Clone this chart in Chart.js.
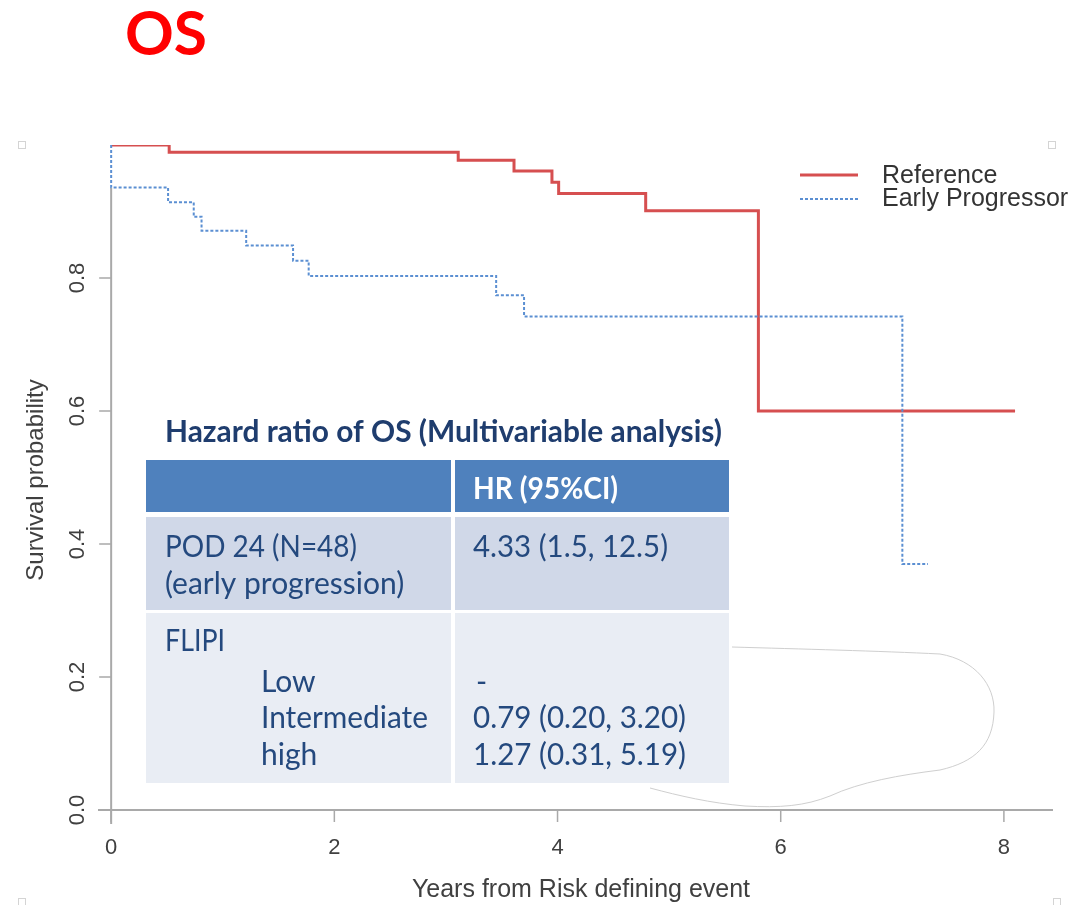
<!DOCTYPE html>
<html>
<head>
<meta charset="utf-8">
<script src="https://cdn.jsdelivr.net/npm/chart.js@4.4.0/dist/chart.umd.min.js"></script>
<style>
  html, body { margin: 0; padding: 0; background: #ffffff; overflow: hidden; }
  canvas { display: block; }
</style>
</head>
<body>
<canvas id="os" width="1092" height="905"></canvas>
<script>
// Kaplan-Meier steps: time (years) and survival just after each step
const refTime   = [0, 0.52, 3.11, 3.61, 3.95, 4.01, 4.79, 5.80, 8.10];
const refSurv   = [1.0, 0.989, 0.977, 0.961, 0.944, 0.927, 0.901, 0.600, 0.600];
const earlyTime = [0, 0, 0.51, 0.74, 0.81, 1.21, 1.63, 1.77, 3.45, 3.70, 7.09, 7.32];
const earlySurv = [1.0, 0.936, 0.914, 0.892, 0.871, 0.849, 0.826, 0.803, 0.774, 0.742, 0.370, 0.370];

const seriesNames = ['Reference', 'Early Progressor'];
const xTicks = [0, 2, 4, 6, 8];
const yTicks = [0.0, 0.2, 0.4, 0.6, 0.8];
const xTitle = 'Years from Risk defining event';
const yTitle = 'Survival probability';
const pageTitle = 'OS';

// Hazard ratio table
const tableTitle = 'Hazard ratio of OS (Multivariable analysis)';
const tableHead = 'HR (95%CI)';
const podLabel = ['POD 24 (N=48)', '(early progression)'];
const podHR = '4.33 (1.5, 12.5)';
const flipiLabel = 'FLIPI';
const flipiLevels = ['Low', 'Intermediate', 'high'];
const flipiHR = ['-', '0.79 (0.20, 3.20)', '1.27 (0.31, 5.19)'];

const RED = '#d64f50';
const BLUE = '#5b8fd2';
const AXIS = '#a9a9a9';
const INK = '#404040';
const NAVY = '#1f3d6e';
const BODY = '#24497e';
const SANS = '"Liberation Sans", Arial, sans-serif';
const HUMAN = 'Lato, "Open Sans", sans-serif';

function pts(xs, ys) { return xs.map((x, i) => ({ x: x, y: ys[i] })); }

function txt(ctx, s, x, y, font, color, align, maxW) {
  ctx.save();
  ctx.font = font;
  ctx.fillStyle = color;
  ctx.textAlign = align || 'left';
  ctx.textBaseline = 'middle';
  if (maxW) ctx.fillText(s, x, y, maxW); else ctx.fillText(s, x, y);
  ctx.restore();
}

const decorations = {
  id: 'decorations',
  beforeDraw(chart) {
    const ctx = chart.ctx;
    ctx.save();
    ctx.fillStyle = '#ffffff';
    ctx.fillRect(0, 0, chart.width, chart.height);
    // slide corner handles
    ctx.strokeStyle = '#d4d4d4';
    ctx.lineWidth = 1;
    [[22, 145], [1052, 145], [22, 902], [1057, 902]].forEach(p => {
      ctx.strokeRect(p[0] - 3.5, p[1] - 3.5, 7, 7);
    });
    // freeform outline shape
    ctx.beginPath();
    ctx.moveTo(732, 647);
    ctx.bezierCurveTo(800, 649, 880, 651, 940, 654);
    ctx.bezierCurveTo(975, 660, 995, 685, 994, 712);
    ctx.bezierCurveTo(993, 745, 975, 762, 940, 770);
    ctx.bezierCurveTo(900, 775, 860, 782, 830, 796);
    ctx.bezierCurveTo(805, 806, 780, 808, 745, 806);
    ctx.bezierCurveTo(710, 803, 680, 796, 650, 788);
    ctx.strokeStyle = '#cfcfcf';
    ctx.lineWidth = 1;
    ctx.stroke();
    ctx.restore();
  },
  afterDraw(chart) {
    const ctx = chart.ctx;
    const xs = chart.scales.x, ys = chart.scales.y;
    const x0 = xs.getPixelForValue(0);
    const yb = ys.getPixelForValue(0);
    ctx.save();
    ctx.strokeStyle = AXIS;
    ctx.lineWidth = 2;
    // axis lines
    ctx.beginPath();
    ctx.moveTo(98, yb); ctx.lineTo(1053, yb);
    ctx.moveTo(x0, 188); ctx.lineTo(x0, yb + 14);
    ctx.stroke();
    // x ticks
    ctx.lineWidth = 1.5;
    xTicks.forEach(v => {
      const px = xs.getPixelForValue(v);
      ctx.beginPath(); ctx.moveTo(px, yb); ctx.lineTo(px, yb + 12); ctx.stroke();
      txt(ctx, String(v), px, 848, '22px ' + SANS, INK, 'center');
    });
    // y ticks, labels rotated
    yTicks.forEach(v => {
      const py = ys.getPixelForValue(v);
      ctx.beginPath(); ctx.moveTo(x0 - 12, py); ctx.lineTo(x0, py); ctx.stroke();
      ctx.save();
      ctx.translate(78, py);
      ctx.rotate(-Math.PI / 2);
      txt(ctx, v.toFixed(1), 0, 0, '22px ' + SANS, INK, 'center');
      ctx.restore();
    });
    // axis titles
    txt(ctx, xTitle, 581, 890, '25px ' + SANS, INK, 'center', 347);
    ctx.save();
    ctx.translate(36, 480);
    ctx.rotate(-Math.PI / 2);
    txt(ctx, yTitle, 0, 0, '24px ' + SANS, INK, 'center', 210);
    ctx.restore();

    // legend
    ctx.lineWidth = 3;
    ctx.strokeStyle = RED;
    ctx.beginPath(); ctx.moveTo(800, 175); ctx.lineTo(858, 175); ctx.stroke();
    ctx.lineWidth = 2;
    ctx.strokeStyle = BLUE;
    ctx.setLineDash([3, 2]);
    ctx.beginPath(); ctx.moveTo(800, 199); ctx.lineTo(858, 199); ctx.stroke();
    ctx.setLineDash([]);
    txt(ctx, seriesNames[0], 882, 176, '25px ' + SANS, '#333333', 'left', 118);
    txt(ctx, seriesNames[1], 882, 199, '25px ' + SANS, '#333333', 'left', 187);

    // page title
    txt(ctx, pageTitle, 166, 35, 'bold 62px ' + HUMAN, '#ff0000', 'center', 82);

    // hazard ratio table
    txt(ctx, tableTitle, 165, 432, 'bold 30px ' + HUMAN, NAVY, 'left', 557);
    ctx.fillStyle = '#4f81bd';
    ctx.fillRect(146, 460, 305, 52);
    ctx.fillRect(455, 460, 274, 52);
    ctx.fillStyle = '#d0d8e8';
    ctx.fillRect(146, 517, 305, 93);
    ctx.fillRect(455, 517, 274, 93);
    ctx.fillStyle = '#e9edf4';
    ctx.fillRect(146, 613, 305, 170);
    ctx.fillRect(455, 613, 274, 170);
    const bodyFont = '30px ' + HUMAN;
    txt(ctx, tableHead, 473, 489, 'bold 30px ' + HUMAN, '#ffffff', 'left', 145);
    txt(ctx, podLabel[0], 165, 547, bodyFont, BODY, 'left', 192);
    txt(ctx, podLabel[1], 165, 584, bodyFont, BODY, 'left', 242);
    txt(ctx, podHR, 473, 547, bodyFont, BODY, 'left', 195);
    txt(ctx, flipiLabel, 165, 641, bodyFont, BODY, 'left', 60);
    const rowY = [682, 718, 755];
    flipiLevels.forEach((s, i) => txt(ctx, s, 261, rowY[i], bodyFont, BODY, 'left', i === 1 ? 167 : undefined));
    flipiHR.forEach((s, i) => txt(ctx, s, i === 0 ? 476 : 473, rowY[i], bodyFont, BODY, 'left', i === 0 ? undefined : 213));
    ctx.restore();
  }
};

new Chart(document.getElementById('os'), {
  type: 'scatter',
  data: {
    datasets: [
      {
        label: seriesNames[1],
        data: pts(earlyTime, earlySurv),
        showLine: true,
        stepped: true,
        borderColor: BLUE,
        borderWidth: 2,
        borderDash: [3, 2],
        pointRadius: 0,
        fill: false
      },
      {
        label: seriesNames[0],
        data: pts(refTime, refSurv),
        showLine: true,
        stepped: true,
        borderColor: RED,
        borderWidth: 3,
        pointRadius: 0,
        fill: false
      }
    ]
  },
  options: {
    responsive: false,
    animation: false,
    layout: { padding: { left: 100, right: 39, top: 145, bottom: 95 } },
    plugins: { legend: { display: false }, tooltip: { enabled: false }, title: { display: false } },
    scales: {
      x: { type: 'linear', min: -0.1, max: 8.44, display: false },
      y: { type: 'linear', min: 0, max: 1, display: false }
    }
  },
  plugins: [decorations]
});
</script>
</body>
</html>
